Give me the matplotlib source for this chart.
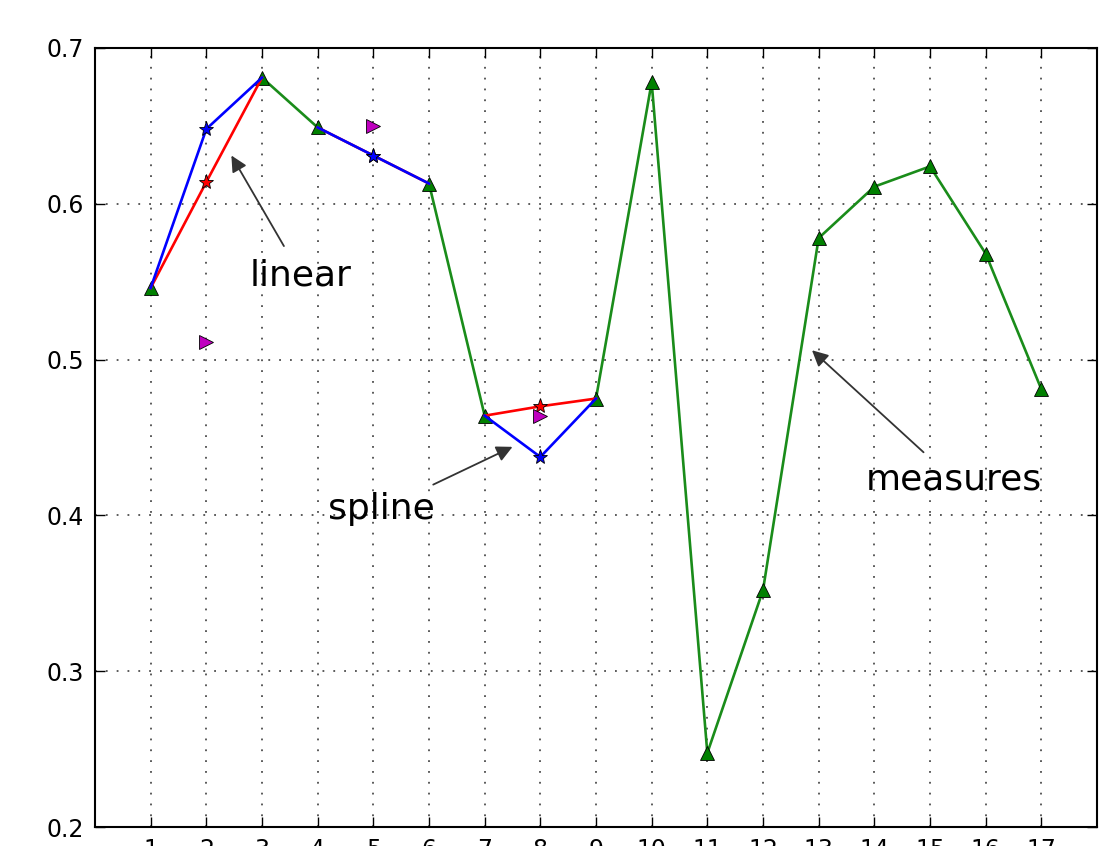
import numpy as np
import matplotlib
matplotlib.use('Agg')
import matplotlib.pyplot as plt

# measured values (missing at 2, 5, 8)
days = np.arange(1, 18)
measures = [0.546, np.nan, 0.681, 0.649, np.nan, 0.613, 0.464, np.nan, 0.475,
            0.678, 0.2475, 0.352, 0.578, 0.611, 0.624, 0.568, 0.481]

# estimates for the missing points
missing_x = [2, 5, 8]
linear_est = [0.614, 0.631, 0.470]
spline_est = [0.648, 0.631, 0.4375]
other_est = [0.511, 0.650, 0.464]

meas = dict(zip(days, measures))


def gap_line(est):
    xs, ys = [], []
    for x, y in zip(missing_x, est):
        xs += [x - 1, x, x + 1, np.nan]
        ys += [meas[x - 1], y, meas[x + 1], np.nan]
    return xs, ys


fig = plt.figure(figsize=(11, 8.46), dpi=100)
ax = fig.add_axes([95 / 1100, 19 / 846, 1002 / 1100, 779 / 846])

ax.plot(days, measures, color='#1a8c1a', lw=1.9, marker='^', ms=10,
        mfc='g', mec='k', mew=0.6, zorder=3)
lx, ly = gap_line(linear_est)
ax.plot(lx, ly, color='r', lw=1.9, zorder=4)
ax.plot(missing_x, linear_est, ls='none', marker='*', ms=11, mfc='r', mec='k', mew=0.6, zorder=5)
sx, sy = gap_line(spline_est)
ax.plot(sx, sy, color='b', lw=1.9, zorder=4)
ax.plot(missing_x, spline_est, ls='none', marker='*', ms=11, mfc='b', mec='k', mew=0.6, zorder=5)
ax.plot(missing_x, other_est, ls='none', marker='>', ms=10, mfc='m', mec='k', mew=0.6, zorder=5)

arrow = dict(arrowstyle='-|>', color='0.2', lw=1.3, mutation_scale=24, shrinkA=8, shrinkB=0)
ax.annotate('linear', xy=(2.45, 0.631), xytext=(3.7, 0.554), fontsize=26,
            ha='center', va='center', arrowprops=arrow)
ax.annotate('spline', xy=(7.5, 0.444), xytext=(5.15, 0.404), fontsize=26,
            ha='center', va='center', arrowprops=arrow)
ax.annotate('measures', xy=(12.88, 0.506), xytext=(15.42, 0.423), fontsize=26,
            ha='center', va='center', arrowprops=arrow)

ax.set_xlim(0, 18)
ax.set_ylim(0.2, 0.7)
ax.set_xticks(days)
ax.set_yticks([0.2, 0.3, 0.4, 0.5, 0.6, 0.7])
ax.grid(True, color='0.3', linestyle=(0, (1, 5)), linewidth=1.3)
ax.set_axisbelow(True)
ax.tick_params(direction='in', top=True, right=True, length=7, width=1,
               labelsize=17, pad=8)
for s in ax.spines.values():
    s.set_linewidth(1.5)

fig.savefig('out.png', dpi=100)
